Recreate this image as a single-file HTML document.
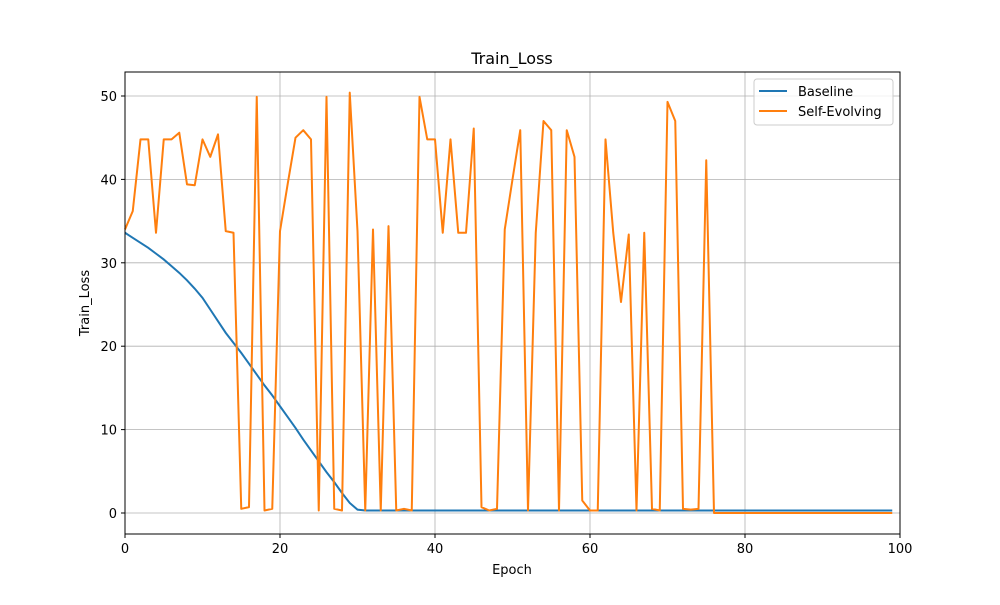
<!DOCTYPE html>
<html><head><meta charset="utf-8"><style>
body{margin:0;background:#fff;font-family:"Liberation Sans","DejaVu Sans",sans-serif;}
</style></head><body>
<svg id="chart" width="1000" height="600" font-family="DejaVu Sans, Liberation Sans, sans-serif">
<rect width="1000" height="600" fill="#fff"/>
<g id="grid"></g><g id="ticks"></g>
<g id="series"></g>
<rect x="125" y="72" width="775" height="462" fill="none" stroke="#000" stroke-width="1"/>
<text x="512" y="64" text-anchor="middle" font-size="16">Train_Loss</text>
<text x="512" y="574" text-anchor="middle" font-size="13">Epoch</text>
<text x="89" y="303" text-anchor="middle" font-size="13" transform="rotate(-90 89 303)">Train_Loss</text>
<g>
<rect x="754" y="79" width="139" height="46" rx="3" fill="#fff" fill-opacity="0.8" stroke="#ccc"/>
<line x1="759" y1="91" x2="787" y2="91" stroke="#1f77b4" stroke-width="2"/>
<text x="798" y="96" font-size="13">Baseline</text>
<line x1="759" y1="111" x2="787" y2="111" stroke="#ff7f0e" stroke-width="2"/>
<text x="798" y="116" font-size="13">Self-Evolving</text>
</g>
</svg>
<script>
const xTicks=[0,20,40,60,80,100];
const yTicks=[0,10,20,30,40,50];
const baseline=[33.6,33.0,32.4,31.8,31.1,30.4,29.6,28.8,27.9,26.9,25.8,24.4,23.0,21.6,20.4,19.2,17.9,16.6,15.3,14.1,12.8,11.5,10.2,8.8,7.5,6.2,4.9,3.7,2.4,1.2,0.4,0.3];
const selfEvolving=[34,36.2,44.8,44.8,33.6,44.8,44.8,45.6,39.4,39.3,44.8,42.7,45.4,33.8,33.6,0.5,0.7,49.9,0.3,0.5,33.8,39.5,45,45.9,44.8,0.3,49.9,0.5,0.3,50.4,33.8,0.3,34,0.3,34.4,0.3,0.5,0.3,49.9,44.8,44.8,33.6,44.8,33.6,33.6,46.1,0.7,0.3,0.5,34,40,45.9,0.3,33.6,47,45.9,0.3,45.9,42.7,1.5,0.3,0.3,44.8,33.6,25.3,33.4,0.3,33.6,0.5,0.3,49.3,47,0.5,0.4,0.5,42.3,0,0,0,0,0,0,0,0,0,0,0,0,0,0,0,0,0,0,0,0,0,0,0,0];
const baselineFloor=0.3, nEpochs=100;
const NS="http://www.w3.org/2000/svg";
const X=v=>125+v*7.75, Y=v=>513-v*8.34;
const grid=document.getElementById('grid'), ticks=document.getElementById('ticks'), series=document.getElementById('series');
function mk(tag,attrs,parent){const e=document.createElementNS(NS,tag);for(const k in attrs)e.setAttribute(k,attrs[k]);parent.appendChild(e);return e;}
xTicks.forEach(t=>{
  const g=mk('line',{x1:X(t),x2:X(t),y1:72,y2:534,stroke:'#b0b0b0','stroke-width':0.8},grid);
  
  
  mk('line',{x1:X(t),x2:X(t),y1:534,y2:538,stroke:'#000'},ticks);
  const tx=mk('text',{x:X(t),y:553,'text-anchor':'middle','font-size':13},ticks);
  tx.textContent=t;
  
  
});
yTicks.forEach(t=>{
  const g=mk('line',{x1:125,x2:900,y1:Y(t),y2:Y(t),stroke:'#b0b0b0','stroke-width':0.8},grid);
  
  
  mk('line',{x1:121,x2:125,y1:Y(t),y2:Y(t),stroke:'#000'},ticks);
  const tx=mk('text',{x:117,y:Y(t)+5,'text-anchor':'end','font-size':13},ticks);
  tx.textContent=t;
  
  
});
const bpts=[];for(let i=0;i<nEpochs;i++){const v=i<baseline.length?baseline[i]:baselineFloor;bpts.push(X(i)+','+Y(v));}
const b=mk('polyline',{points:bpts.join(' '),fill:'none',stroke:'#1f77b4','stroke-width':2},series);


const s=mk('polyline',{points:selfEvolving.map((v,i)=>X(i)+','+Y(v)).join(' '),fill:'none',stroke:'#ff7f0e','stroke-width':2,'stroke-linejoin':'round'},series);


</script>
</body></html>
